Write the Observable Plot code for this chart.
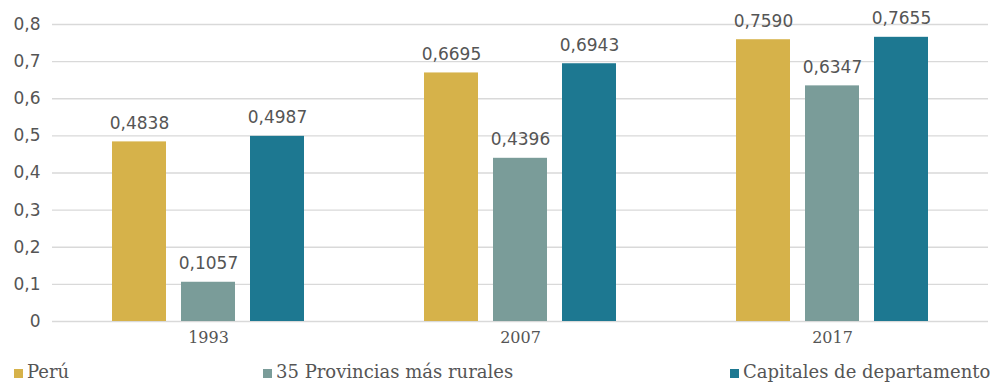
<!DOCTYPE html>
<html><head><meta charset="utf-8">
<script src="https://cdn.jsdelivr.net/npm/d3@7"></script>
<script src="https://cdn.jsdelivr.net/npm/@observablehq/plot@0.6"></script>
<style>
body{margin:0;background:#fff;}
#wrap{position:relative;width:990px;height:382px;overflow:hidden;}
#chart svg{display:block;}
.leg{position:absolute;top:362px;font-family:"DejaVu Serif";font-size:18px;line-height:20px;color:#555;white-space:nowrap;}
.sw{display:inline-block;width:9px;height:9px;margin-right:4px;vertical-align:baseline;}
</style></head>
<body><div id="wrap"><div id="chart"></div></div>
<script>
const years = ["1993", "2007", "2017"];
const series = ["Perú", "35 Provincias más rurales", "Capitales de departamento"];
const peru = [0.4838, 0.6695, 0.7590];
const rurales = [0.1057, 0.4396, 0.6347];
const capitales = [0.4987, 0.6943, 0.7655];
const yTicks = [0, 0.1, 0.2, 0.3, 0.4, 0.5, 0.6, 0.7, 0.8];
const colors = ["#D6B24A", "#7A9C99", "#1D7891"];
const legendLeft = [14, 263, 730];

const seriesValues = [peru, rurales, capitales];
const data = years.flatMap((yr, i) => series.map((s, j) => ({year: yr, serie: s, value: seriesValues[j][i]})));
const fmtVal = v => v.toFixed(4).replace(".", ",");
const fmtTick = v => v === 0 ? "0" : v.toFixed(1).replace(".", ",");

const chart = Plot.plot({
  width: 990, height: 355,
  marginLeft: 52, marginRight: 2, marginTop: 24, marginBottom: 34,
  style: {fontFamily: "DejaVu Sans", fontSize: "17px", color: "#555", background: "#fff"},
  fx: {domain: years, padding: 0, label: null, axis: null},
  x: {domain: series, axis: null, paddingInner: 0.214, paddingOuter: 0.836},
  y: {domain: [0, 0.8], axis: null},
  color: {domain: series, range: colors},
  marks: [
    Plot.ruleY(yTicks, {stroke: "#d9d9d9", strokeWidth: 1.3}),
    Plot.axisY(yTicks, {tickSize: 0, tickPadding: 12, tickFormat: fmtTick, fontSize: 17, fill: "#555", label: null}),
    Plot.axisFx({tickSize: 0, tickPadding: 10, fontFamily: "DejaVu Serif", fontSize: 16, fill: "#555", label: null, anchor: "bottom"}),
    Plot.barY(data, {fx: "year", x: "serie", y: "value", fill: "serie"}),
    Plot.text(data, {fx: "year", x: "serie", y: "value", text: d => fmtVal(d.value), dy: -13, lineAnchor: "bottom", fill: "#555", fontSize: 17})
  ]
});
document.getElementById("chart").appendChild(chart);

const wrap = document.getElementById("wrap");
series.forEach((s, i) => {
  const d = document.createElement("div");
  d.className = "leg";
  d.style.left = legendLeft[i] + "px";
  const sw = document.createElement("span");
  sw.className = "sw";
  sw.style.background = colors[i];
  d.appendChild(sw);
  d.appendChild(document.createTextNode(s));
  wrap.appendChild(d);
});
</script>
</body></html>
